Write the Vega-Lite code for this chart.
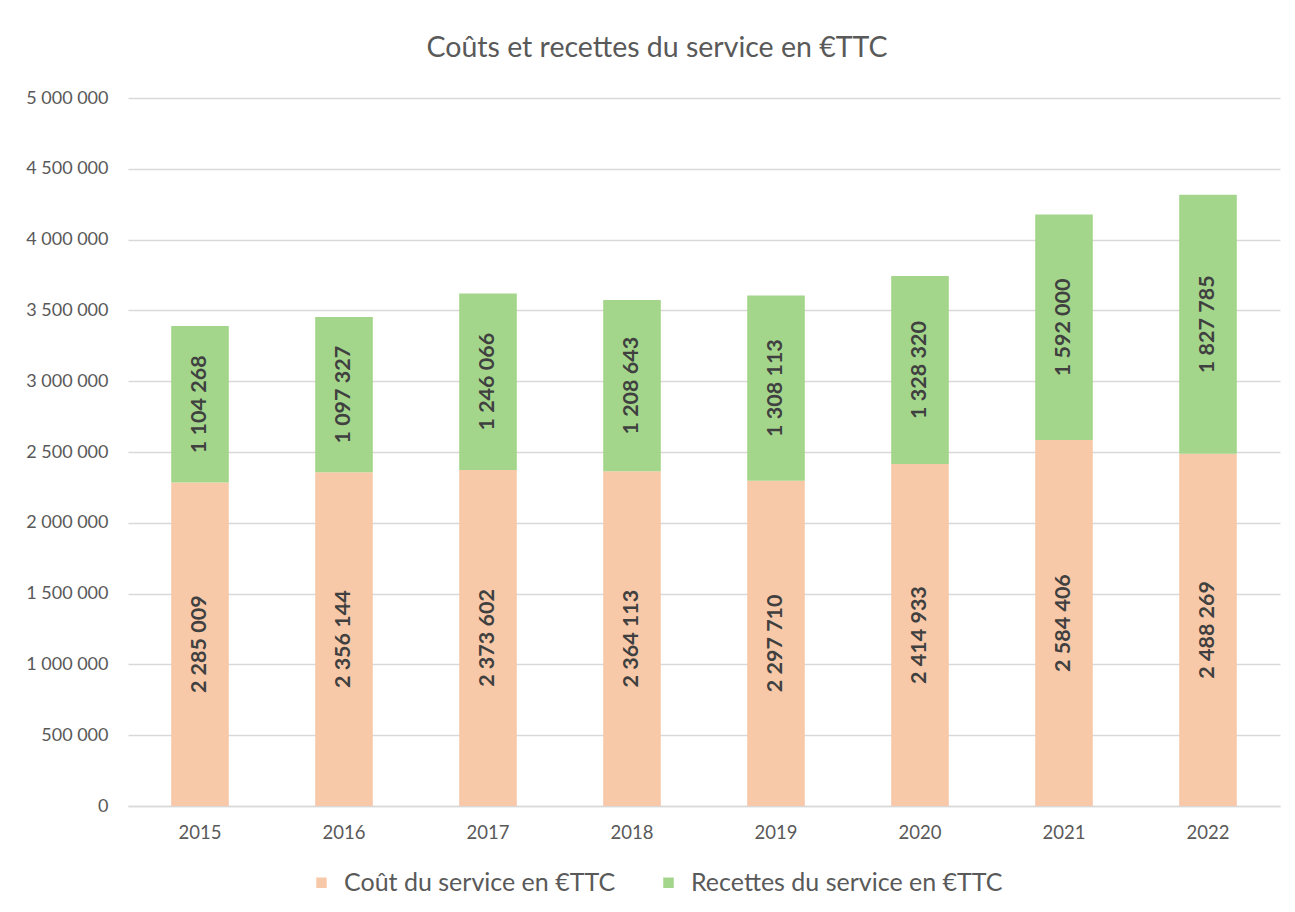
{
  "$schema": "https://vega.github.io/schema/vega-lite/v6.json",
  "width": 1152,
  "height": 708,
  "autosize": {"type": "none"},
  "padding": {"left": 128, "top": 98, "right": 15, "bottom": 106},
  "background": "white",
  "title": {
    "text": "Coûts et recettes du service en €TTC",
    "font": "Lato",
    "fontSize": 28.5,
    "fontWeight": "normal",
    "color": "#595959",
    "anchor": "middle",
    "dx": -47,
    "offset": 27
  },
  "data": {
    "values": [
      {"annee": "2015", "serie": "Coût du service en €TTC", "valeur": 2285009},
      {"annee": "2015", "serie": "Recettes du service en €TTC", "valeur": 1104268},
      {"annee": "2016", "serie": "Coût du service en €TTC", "valeur": 2356144},
      {"annee": "2016", "serie": "Recettes du service en €TTC", "valeur": 1097327},
      {"annee": "2017", "serie": "Coût du service en €TTC", "valeur": 2373602},
      {"annee": "2017", "serie": "Recettes du service en €TTC", "valeur": 1246066},
      {"annee": "2018", "serie": "Coût du service en €TTC", "valeur": 2364113},
      {"annee": "2018", "serie": "Recettes du service en €TTC", "valeur": 1208643},
      {"annee": "2019", "serie": "Coût du service en €TTC", "valeur": 2297710},
      {"annee": "2019", "serie": "Recettes du service en €TTC", "valeur": 1308113},
      {"annee": "2020", "serie": "Coût du service en €TTC", "valeur": 2414933},
      {"annee": "2020", "serie": "Recettes du service en €TTC", "valeur": 1328320},
      {"annee": "2021", "serie": "Coût du service en €TTC", "valeur": 2584406},
      {"annee": "2021", "serie": "Recettes du service en €TTC", "valeur": 1592000},
      {"annee": "2022", "serie": "Coût du service en €TTC", "valeur": 2488269},
      {"annee": "2022", "serie": "Recettes du service en €TTC", "valeur": 1827785}
    ]
  },
  "transform": [
    {"stack": "valeur", "groupby": ["annee"], "sort": [{"field": "serie", "order": "ascending"}], "as": ["v0", "v1"]},
    {"calculate": "(datum.v0 + datum.v1) / 2", "as": "milieu"},
    {"calculate": "replace(format(datum.valeur, ',d'), /,/g, ' ')", "as": "etiquette"}
  ],
  "encoding": {
    "x": {
      "field": "annee",
      "type": "ordinal",
      "scale": {"paddingInner": 0.6, "paddingOuter": 0.3},
      "axis": {
        "title": null,
        "labelAngle": 0,
        "labelFont": "Lato",
        "labelFontSize": 18.5,
        "labelColor": "#595959",
        "labelPadding": 17,
        "ticks": false,
        "domainColor": "#d9d9d9",
        "domainWidth": 1.5
      }
    }
  },
  "layer": [
    {
      "mark": {"type": "bar"},
      "encoding": {
        "y": {
          "field": "v0",
          "type": "quantitative",
          "scale": {"domain": [0, 5000000]},
          "axis": {
            "title": null,
            "values": [0, 500000, 1000000, 1500000, 2000000, 2500000, 3000000, 3500000, 4000000, 4500000, 5000000],
            "labelExpr": "replace(format(datum.value, ',d'), /,/g, ' ')",
            "labelFont": "Lato",
            "labelFontSize": 18,
            "labelColor": "#595959",
            "labelPadding": 20,
            "ticks": false,
            "domain": false,
            "gridColor": "#d9d9d9",
            "gridWidth": 1.5
          }
        },
        "y2": {"field": "v1"},
        "color": {
          "field": "serie",
          "type": "nominal",
          "scale": {
            "domain": ["Coût du service en €TTC", "Recettes du service en €TTC"],
            "range": ["#f8c9a8", "#a3d68b"]
          },
          "legend": {
            "title": null,
            "orient": "none",
            "direction": "horizontal",
            "legendX": 181,
            "legendY": 772,
            "symbolType": "square",
            "symbolSize": 110,
            "symbolStrokeWidth": 0,
            "labelFont": "Lato",
            "labelFontSize": 25,
            "labelColor": "#595959",
            "labelOffset": 10,
            "labelLimit": 0,
            "columnPadding": 40,
            "padding": 0
          }
        }
      }
    },
    {
      "mark": {"type": "text", "angle": 270, "align": "center", "baseline": "middle", "font": "Lato", "fontSize": 21.5, "fontWeight": "bold", "color": "#404040"},
      "encoding": {
        "y": {"field": "milieu", "type": "quantitative"},
        "text": {"field": "etiquette", "type": "nominal"}
      }
    }
  ],
  "config": {
    "view": {"stroke": null}
  }
}
